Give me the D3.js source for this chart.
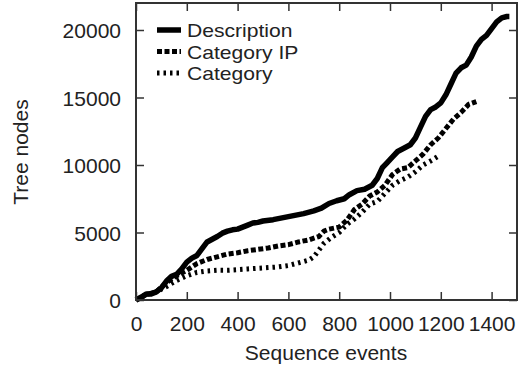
<!DOCTYPE html>
<html><head><meta charset="utf-8">
<script src="https://cdn.jsdelivr.net/npm/d3@7"></script>
<style>body{margin:0;background:#fff}svg{display:block}text{font-family:"Liberation Sans",Arial,sans-serif;fill:#222}</style>
</head><body>
<svg id="c" width="519" height="370"></svg>
<script>
const xTicks = [0,200,400,600,800,1000,1200,1400];
const yTicks = [0,5000,10000,15000,20000];
const seriesNames = ["Description","Category IP","Category"];
const descX = [0,20,40,60,80,100,120,140,160,180,200,220,240,260,280,300,320,340,360,380,400,420,440,460,480,500,540,580,620,660,700,730,760,790,820,840,870,900,930,950,970,990,1010,1030,1060,1080,1100,1120,1140,1160,1180,1200,1220,1240,1260,1280,1300,1320,1340,1360,1380,1400,1420,1440,1460,1470];
const descY = [0,200,450,450,600,900,1400,1750,1900,2300,2800,3100,3300,3800,4300,4500,4700,4950,5100,5200,5250,5400,5550,5700,5750,5850,5950,6100,6250,6400,6600,6800,7150,7350,7500,7800,8100,8200,8500,9000,9800,10200,10600,11000,11300,11500,12000,12800,13600,14100,14300,14600,15200,16000,16800,17200,17400,18000,18800,19300,19600,20100,20600,20900,21000,21000];
const ipX = [0,40,80,120,160,200,240,280,320,360,400,440,480,520,560,600,640,680,720,740,760,800,830,860,890,920,950,980,1010,1040,1070,1100,1130,1160,1190,1220,1250,1280,1310,1340];
const ipY = [0,400,600,1300,1800,2200,2700,3000,3200,3400,3500,3650,3750,3850,4000,4100,4300,4450,4700,5100,5250,5400,5900,6700,7100,7700,8000,8500,9300,9700,9800,10300,10800,11500,12000,12700,13400,13900,14500,14700];
const catX = [0,40,80,120,160,200,240,280,320,360,400,440,480,520,560,600,640,680,700,720,740,770,800,830,860,890,920,950,980,1010,1040,1070,1100,1130,1160,1190,1200];
const catY = [0,400,600,1000,1450,1800,2050,2150,2200,2200,2250,2300,2350,2400,2450,2550,2750,2950,3200,3700,4200,4650,5000,5600,6000,6500,7100,7300,7900,8500,8850,9100,9500,10000,10300,10650,10700];

const svg = d3.select("#c");
const L=136, R=517, T=3, B=300;
const x = d3.scaleLinear().domain([0,1500]).range([L,R]);
const y = d3.scaleLinear().domain([0,22000]).range([B,T]);
const frame = "#333";
const FS = "21px";

const styles = [
  {w:5.5, dash:null},
  {w:5, dash:"5,2.5"},
  {w:5, dash:"2.5,4"}
];
const data = [
  descX.map((d,i)=>[d,descY[i]]),
  ipX.map((d,i)=>[d,ipY[i]]),
  catX.map((d,i)=>[d,catY[i]])
];
const line = d3.line().x(d=>x(d[0])).y(d=>y(d[1]));
const g = svg.append("g");
[2,1,0].forEach(i=>{
  g.append("path").attr("d",line(data[i])).attr("fill","none").attr("stroke","#000")
   .attr("stroke-width",styles[i].w).attr("stroke-dasharray",styles[i].dash)
   .attr("stroke-linejoin","round");
});

const ax = (gen, tr) => {
  const a = svg.append("g").attr("transform",tr).call(gen);
  a.selectAll("path.domain").remove();
  a.selectAll("line").attr("stroke",frame).attr("stroke-width",1.5);
  return a;
};
const bx = ax(d3.axisBottom(x).tickValues(xTicks).tickSize(-8).tickFormat(d3.format("d")), `translate(0,${B})`);
bx.selectAll("text").attr("y",16).attr("dy","0.71em").style("font-size",FS).attr("fill","#222");
ax(d3.axisTop(x).tickValues(xTicks).tickSize(-8).tickFormat(""), `translate(0,${T})`);
const ly = ax(d3.axisLeft(y).tickValues(yTicks).tickSize(-8).tickFormat(d3.format("d")), `translate(${L},0)`);
ly.selectAll("text").attr("x",-15).attr("dy","0.36em").style("font-size",FS).attr("fill","#222");
ax(d3.axisRight(y).tickValues(yTicks).tickSize(-8).tickFormat(""), `translate(${R},0)`);

svg.append("rect").attr("x",L).attr("y",T).attr("width",R-L).attr("height",B-T)
  .attr("fill","none").attr("stroke",frame).attr("stroke-width",2);

const leg = svg.append("g");
seriesNames.forEach((n,i)=>{
  const yy = 30 + i*21.5;
  leg.append("line").attr("x1",157).attr("x2",181).attr("y1",yy).attr("y2",yy)
    .attr("stroke","#000").attr("stroke-width",styles[i].w).attr("stroke-dasharray",styles[i].dash);
  const t = leg.append("text").attr("x",187).attr("y",yy+7).style("font-size","19px").text(n);
  const w = t.node().getComputedTextLength();
  t.attr("textLength", w*1.11).attr("lengthAdjust","spacingAndGlyphs");
});

svg.append("text").attr("x",326).attr("y",360).attr("text-anchor","middle").style("font-size",FS).text("Sequence events");
svg.append("text").attr("transform","translate(28,152) rotate(-90)").attr("text-anchor","middle").style("font-size",FS).text("Tree nodes");
</script>
</body></html>
